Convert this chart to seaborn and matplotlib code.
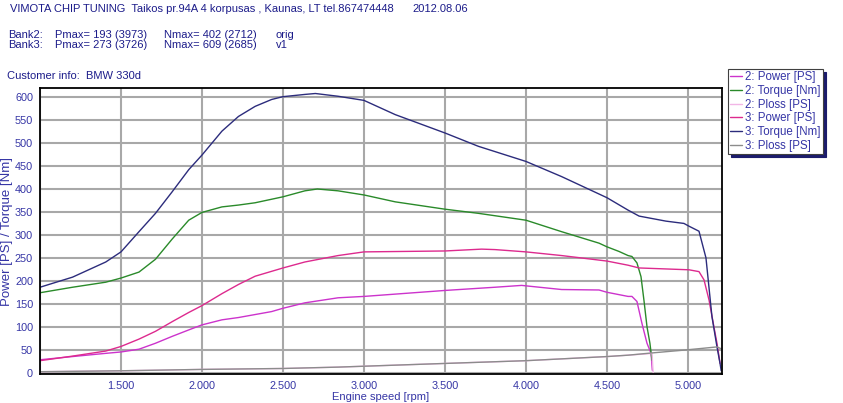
import pandas as pd
import matplotlib
matplotlib.use("Agg")
import matplotlib.pyplot as plt
import matplotlib.ticker as mticker
import seaborn as sns

# values
rpm_t3 = [1000, 1201, 1406, 1500, 1611, 1713, 1816, 1918, 2000, 2123, 2225, 2328, 2430, 2498,
          2635, 2700, 2840, 3000, 3193, 3500, 3706, 4000, 4220, 4500, 4630, 4698, 4864, 4975,
          5006, 5068, 5111, 5148, 5179, 5198, 5205]
torque3 = [186, 208, 241, 263, 307, 347, 394, 442, 474, 526, 558, 580, 595, 601,
           606, 608, 602, 593, 562, 522, 493, 460, 427, 381, 354, 341, 330, 325,
           319, 308, 250, 122, 56, 20, 4]

rpm_p3 = [1000, 1201, 1406, 1500, 1611, 1713, 1816, 1918, 2000, 2123, 2225, 2328, 2500, 2635,
          2840, 3000, 3500, 3726, 3809, 4000, 4220, 4500, 4630, 4698, 5006, 5068, 5099, 5130,
          5160, 5179, 5198]
power3 = [26, 36, 47, 57, 73, 90, 111, 131, 146, 172, 192, 210, 228, 241,
          255, 263, 265, 269, 268, 263, 255, 243, 234, 228, 224, 220, 202, 158,
          100, 64, 20]

rpm_t2 = [1000, 1201, 1406, 1500, 1611, 1713, 1816, 1918, 2000, 2123, 2225, 2328, 2500, 2635,
          2712, 2840, 3000, 3193, 3500, 3706, 4000, 4220, 4451, 4500, 4574, 4630, 4654, 4685,
          4710, 4728, 4747, 4765, 4778]
torque2 = [174, 186, 197, 206, 219, 247, 291, 332, 349, 361, 365, 370, 383, 396,
           400, 396, 387, 372, 356, 347, 332, 307, 282, 274, 264, 255, 253, 239,
           209, 158, 100, 64, 27]

rpm_p2 = [1000, 1201, 1406, 1500, 1611, 1713, 1816, 1918, 2000, 2123, 2225, 2430, 2498, 2635,
          2840, 3000, 3500, 3809, 3973, 4220, 4451, 4500, 4630, 4654, 4685, 4716, 4747, 4772,
          4780]
power2 = [28, 35, 42, 45, 51, 64, 79, 93, 104, 115, 120, 133, 140, 152,
          163, 166, 179, 186, 190, 181, 180, 175, 166, 166, 155, 107, 64, 42,
          5]

rpm_l3 = [1000, 1500, 2000, 2498, 2840, 3500, 4000, 4500, 4630, 4750, 5006, 5179, 5205]
ploss3 = [2, 4, 7, 9, 12, 20, 26, 35, 38, 42, 50, 56, 52]

rpm_l2 = [1000, 1500, 2000, 2498, 2840, 3500, 4000, 4500, 4630, 4750, 4778, 4785]
ploss2 = [2, 4, 7, 9, 12, 20, 26, 35, 38, 41, 42, 0]

series = [
    ("2: Power [PS]", rpm_p2, power2, "#cc33cc"),
    ("2: Torque [Nm]", rpm_t2, torque2, "#2a8a2a"),
    ("2: Ploss [PS]", rpm_l2, ploss2, "#f2b6e6"),
    ("3: Power [PS]", rpm_p3, power3, "#dd2a8e"),
    ("3: Torque [Nm]", rpm_t3, torque3, "#2c2c7c"),
    ("3: Ploss [PS]", rpm_l3, ploss3, "#8c8c8c"),
]

sns.set_style("white")
plt.rcParams['font.family'] = ['Liberation Sans', 'DejaVu Sans']
blue = "#3535a5"
navy = "#1c1c8a"

fig = plt.figure(figsize=(8.43, 4.03), dpi=100)
ax = fig.add_axes([40 / 843, 1 - 374 / 403, 682 / 843, 286 / 403])

for name, x, y, c in series:
    df = pd.DataFrame({"rpm": x, "val": y})
    sns.lineplot(data=df, x="rpm", y="val", ax=ax, color=c, lw=1.0, label=name,
                 sort=False, estimator=None)

ax.set_xlim(1000, 5210)
ax.set_ylim(-3, 620)
ax.xaxis.set_major_locator(mticker.MultipleLocator(500))
ax.xaxis.set_minor_locator(mticker.MultipleLocator(250))
ax.yaxis.set_major_locator(mticker.MultipleLocator(50))
ax.yaxis.set_minor_locator(mticker.MultipleLocator(10))
ax.xaxis.set_major_formatter(mticker.FuncFormatter(
    lambda v, p: "" if v < 1400 else f"{int(v):,}".replace(",", ".")))
ax.grid(True, which="major", color="#a8a8a8", lw=1.5)
ax.tick_params(which="both", direction="out", colors="black", labelcolor=blue,
               labelsize=7.8)
ax.tick_params(which="major", length=3, width=0.8, pad=2)
ax.tick_params(which="minor", length=2, width=0.6)
for s in ax.spines.values():
    s.set_color("black")
    s.set_linewidth(1.3)

ax.set_xlabel("Engine speed [rpm]", color=blue, fontsize=8, labelpad=1)
ax.set_ylabel("Power [PS] / Torque [Nm]", color=blue, fontsize=9.5, labelpad=1.5)

ax.get_legend().remove()
handles, labels = ax.get_legend_handles_labels()
leg = fig.legend(handles, labels, loc="upper left", bbox_to_anchor=(728 / 843, 1 - 69 / 403),
                 frameon=True, fancybox=False, fontsize=8.3, labelcolor=blue,
                 handlelength=1.0, handletextpad=0.3, labelspacing=0.15,
                 borderpad=0.2, borderaxespad=0,
                 shadow={"color": "#1c1c6c", "alpha": 1})
leg.get_frame().set_edgecolor("#404040")
leg.get_frame().set_linewidth(0.8)

def txt(x, y, s):
    fig.text(x / 843, 1 - y / 403, s, color=navy, fontsize=8, va="center", ha="left")

txt(10, 9, "VIMOTA CHIP TUNING  Taikos pr.94A 4 korpusas , Kaunas, LT tel.867474448")
txt(412, 9, "2012.08.06")
txt(8, 35, "Bank2:")
txt(55, 35, "Pmax= 193 (3973)")
txt(164, 35, "Nmax= 402 (2712)")
txt(276, 35, "orig")
txt(8, 45, "Bank3:")
txt(55, 45, "Pmax= 273 (3726)")
txt(164, 45, "Nmax= 609 (2685)")
txt(276, 45, "v1")
txt(7, 76, "Customer info:")
txt(86, 76, "BMW 330d")

fig.savefig("out.png", dpi=100)
